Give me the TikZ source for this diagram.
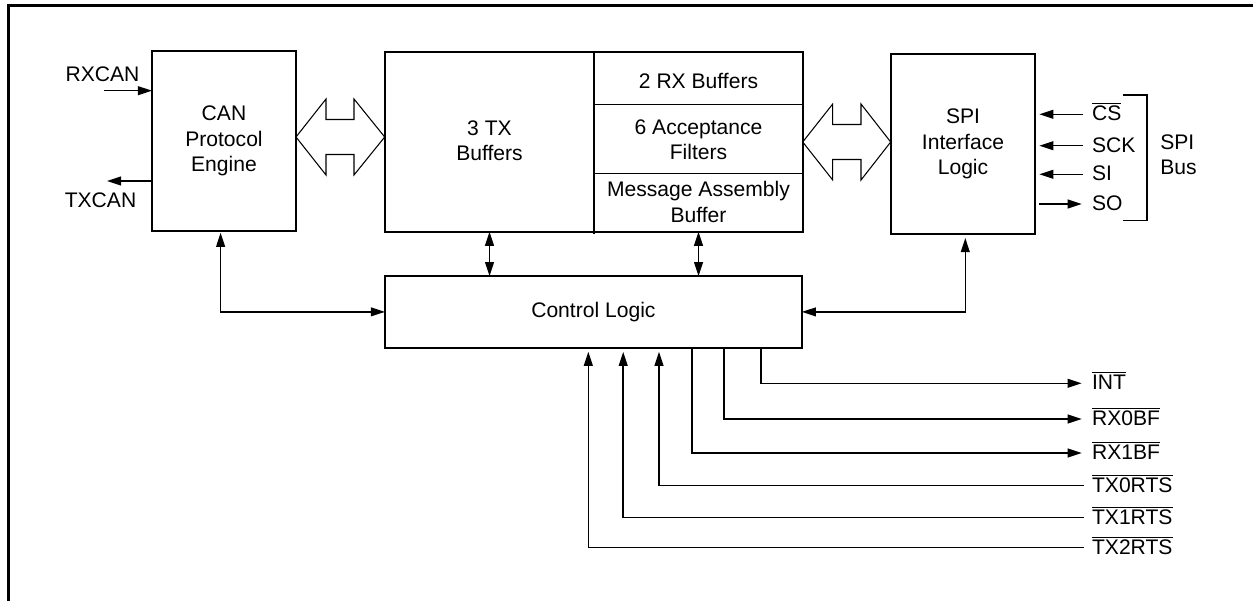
\documentclass[tikz,border=0pt]{standalone}
\usepackage{fontspec}
\setmainfont{Liberation Sans}
\usetikzlibrary{positioning,arrows.meta}

\newcommand{\ovl}[1]{$\overline{\mbox{#1}}$}

\begin{document}
\begin{tikzpicture}[x=0.02cm, y=-0.02cm,
    font=\fontsize{12}{14.5}\selectfont,
    >={Triangle[length=8pt, width=5pt]},
    box/.style={draw, line width=1.05pt, inner sep=0pt, outer sep=0pt, align=center},
    txt/.style={inner sep=0pt, align=center},
    pin/.style={inner sep=0pt, anchor=west, text height=1.8ex, text depth=0.42ex},
    sig/.style={line width=0.9pt},
    bus/.style={draw, line width=0.6pt, line join=miter},
    thin/.style={line width=0.45pt}]

    \useasboundingbox (0,0) rectangle (1253,601);

    % frame
    \draw[line width=1.2pt] (8.5,601) -- (8.5,5.5) -- (1253,5.5);

    % blocks
    \node[box, minimum width=2.88cm, minimum height=3.6cm] (can) at (224,141) {CAN\\Protocol\\Engine};
    \node[box, minimum width=8.36cm, minimum height=3.59cm] (buf) at (593.7,142) {};
    \node[box, minimum width=2.89cm, minimum height=3.6cm] (spi) at (963,144) {SPI\\Interface\\Logic};
    \node[box, minimum width=8.34cm, minimum height=1.43cm] (ctrl) at (593.4,311.9) {Control Logic};

    % buffer block inside
    \draw[line width=1.05pt] (594,52.3) -- (594,234);
    \draw[thin] (594,104.3) -- (802.7,104.3);
    \draw[thin] (594,173.3) -- (802.7,173.3);
    \node[txt] (txbuf) at (489.5,141) {3 TX\\Buffers};
    \node[txt] (rxbuf) at (698.5,81) {2 RX Buffers};
    \node[txt] (filt) at (698.5,139.5) {6 Acceptance\\Filters};
    \node[txt] (mab) at (698.5,202) {Message Assembly\\Buffer};

    % wide bus arrows
    \draw[bus] (296,137) -- (326,99) -- (326,119.5) -- (354,119.5) -- (354,99) -- (384.7,137)
        -- (354,175) -- (354,154.5) -- (326,154.5) -- (326,175) -- cycle;
    \draw[bus] (802.7,142) -- (832.7,104) -- (832.7,124.5) -- (861,124.5) -- (861,104) -- (890.7,142)
        -- (861,180) -- (861,159.5) -- (832.7,159.5) -- (832.7,180) -- cycle;

    % CAN bus pins
    \node[txt] (rxcan) at (102.5,74) {RXCAN};
    \node[txt] (txcan) at (100.5,200) {TXCAN};
    \coordinate (rxin) at (104,90.7);
    \coordinate (txout) at (107,181);
    \draw[sig, ->] (rxin) -- (rxin -| can.west);
    \draw[sig, ->] (txout -| can.west) -- (txout);

    % SPI pins
    \node[pin] (cs) at (1091.7,114.3) {\ovl{CS}};
    \node[pin] (sck) at (1091.7,145.7) {SCK};
    \node[pin] (si) at (1091.7,174.3) {SI};
    \node[pin] (so) at (1091.7,204) {SO};
    \draw[sig, ->, shorten <=4.9pt, shorten >=2.3pt] (cs) -- (cs -| spi.east);
    \draw[sig, ->, shorten <=4.9pt, shorten >=2.3pt] (sck) -- (sck -| spi.east);
    \draw[sig, ->, shorten <=4.9pt, shorten >=2.3pt] (si) -- (si -| spi.east);
    \draw[sig, ->, shorten <=2.3pt, shorten >=5.7pt] (so -| spi.east) -- (so);
    \draw[sig] (1123,95) -- (1146.7,95) -- (1146.7,220.7) -- (1123,220.7);
    \node[txt, anchor=west, align=left] (spibus) at (1160,155) {SPI\\Bus};

    % links to control logic
    \coordinate (cantap) at (220.6,231);
    \coordinate (spitap) at (965.3,234);
    \draw[sig, <->, shorten >=1pt] (ctrl.west) -| (cantap);
    \draw[sig, <->, shorten >=2.3pt] (ctrl.east) -| (spitap);
    \draw[sig, <->] (txbuf |- buf.south) -- (txbuf |- ctrl.north);
    \draw[sig, <->] (rxbuf |- buf.south) -- (rxbuf |- ctrl.north);

    % control pins
    \node[pin] (int) at (1091.7,383.3) {\ovl{INT}};
    \node[pin] (rx0) at (1091.7,419) {\ovl{RX0BF}};
    \node[pin] (rx1) at (1091.7,453) {\ovl{RX1BF}};
    \node[pin] (tx0) at (1091.7,485.7) {\ovl{TX0RTS}};
    \node[pin] (tx1) at (1091.7,517.7) {\ovl{TX1RTS}};
    \node[pin] (tx2) at (1091.7,547.7) {\ovl{TX2RTS}};

    \coordinate (inttap) at (761.1,347.7);
    \coordinate (rx0tap) at (724,347.7);
    \coordinate (rx1tap) at (691.7,347.7);
    \coordinate (tx0tap) at (659,347.7);
    \coordinate (tx1tap) at (623.2,347.7);
    \coordinate (tx2tap) at (588.3,347.7);

    \draw[sig, ->, shorten >=5.7pt] (inttap) |- (int);
    \draw[sig, ->, shorten >=5.7pt] (rx0tap) |- (rx0);
    \draw[sig, ->, shorten >=5.7pt] (rx1tap) |- (rx1);
    \draw[sig, ->, shorten <=4.5pt, shorten >=2.3pt] (tx0) -| (tx0tap);
    \draw[sig, ->, shorten <=4.5pt, shorten >=2.3pt] (tx1) -| (tx1tap);
    \draw[sig, ->, shorten <=4.5pt, shorten >=2.3pt] (tx2) -| (tx2tap);
\end{tikzpicture}
\end{document}
